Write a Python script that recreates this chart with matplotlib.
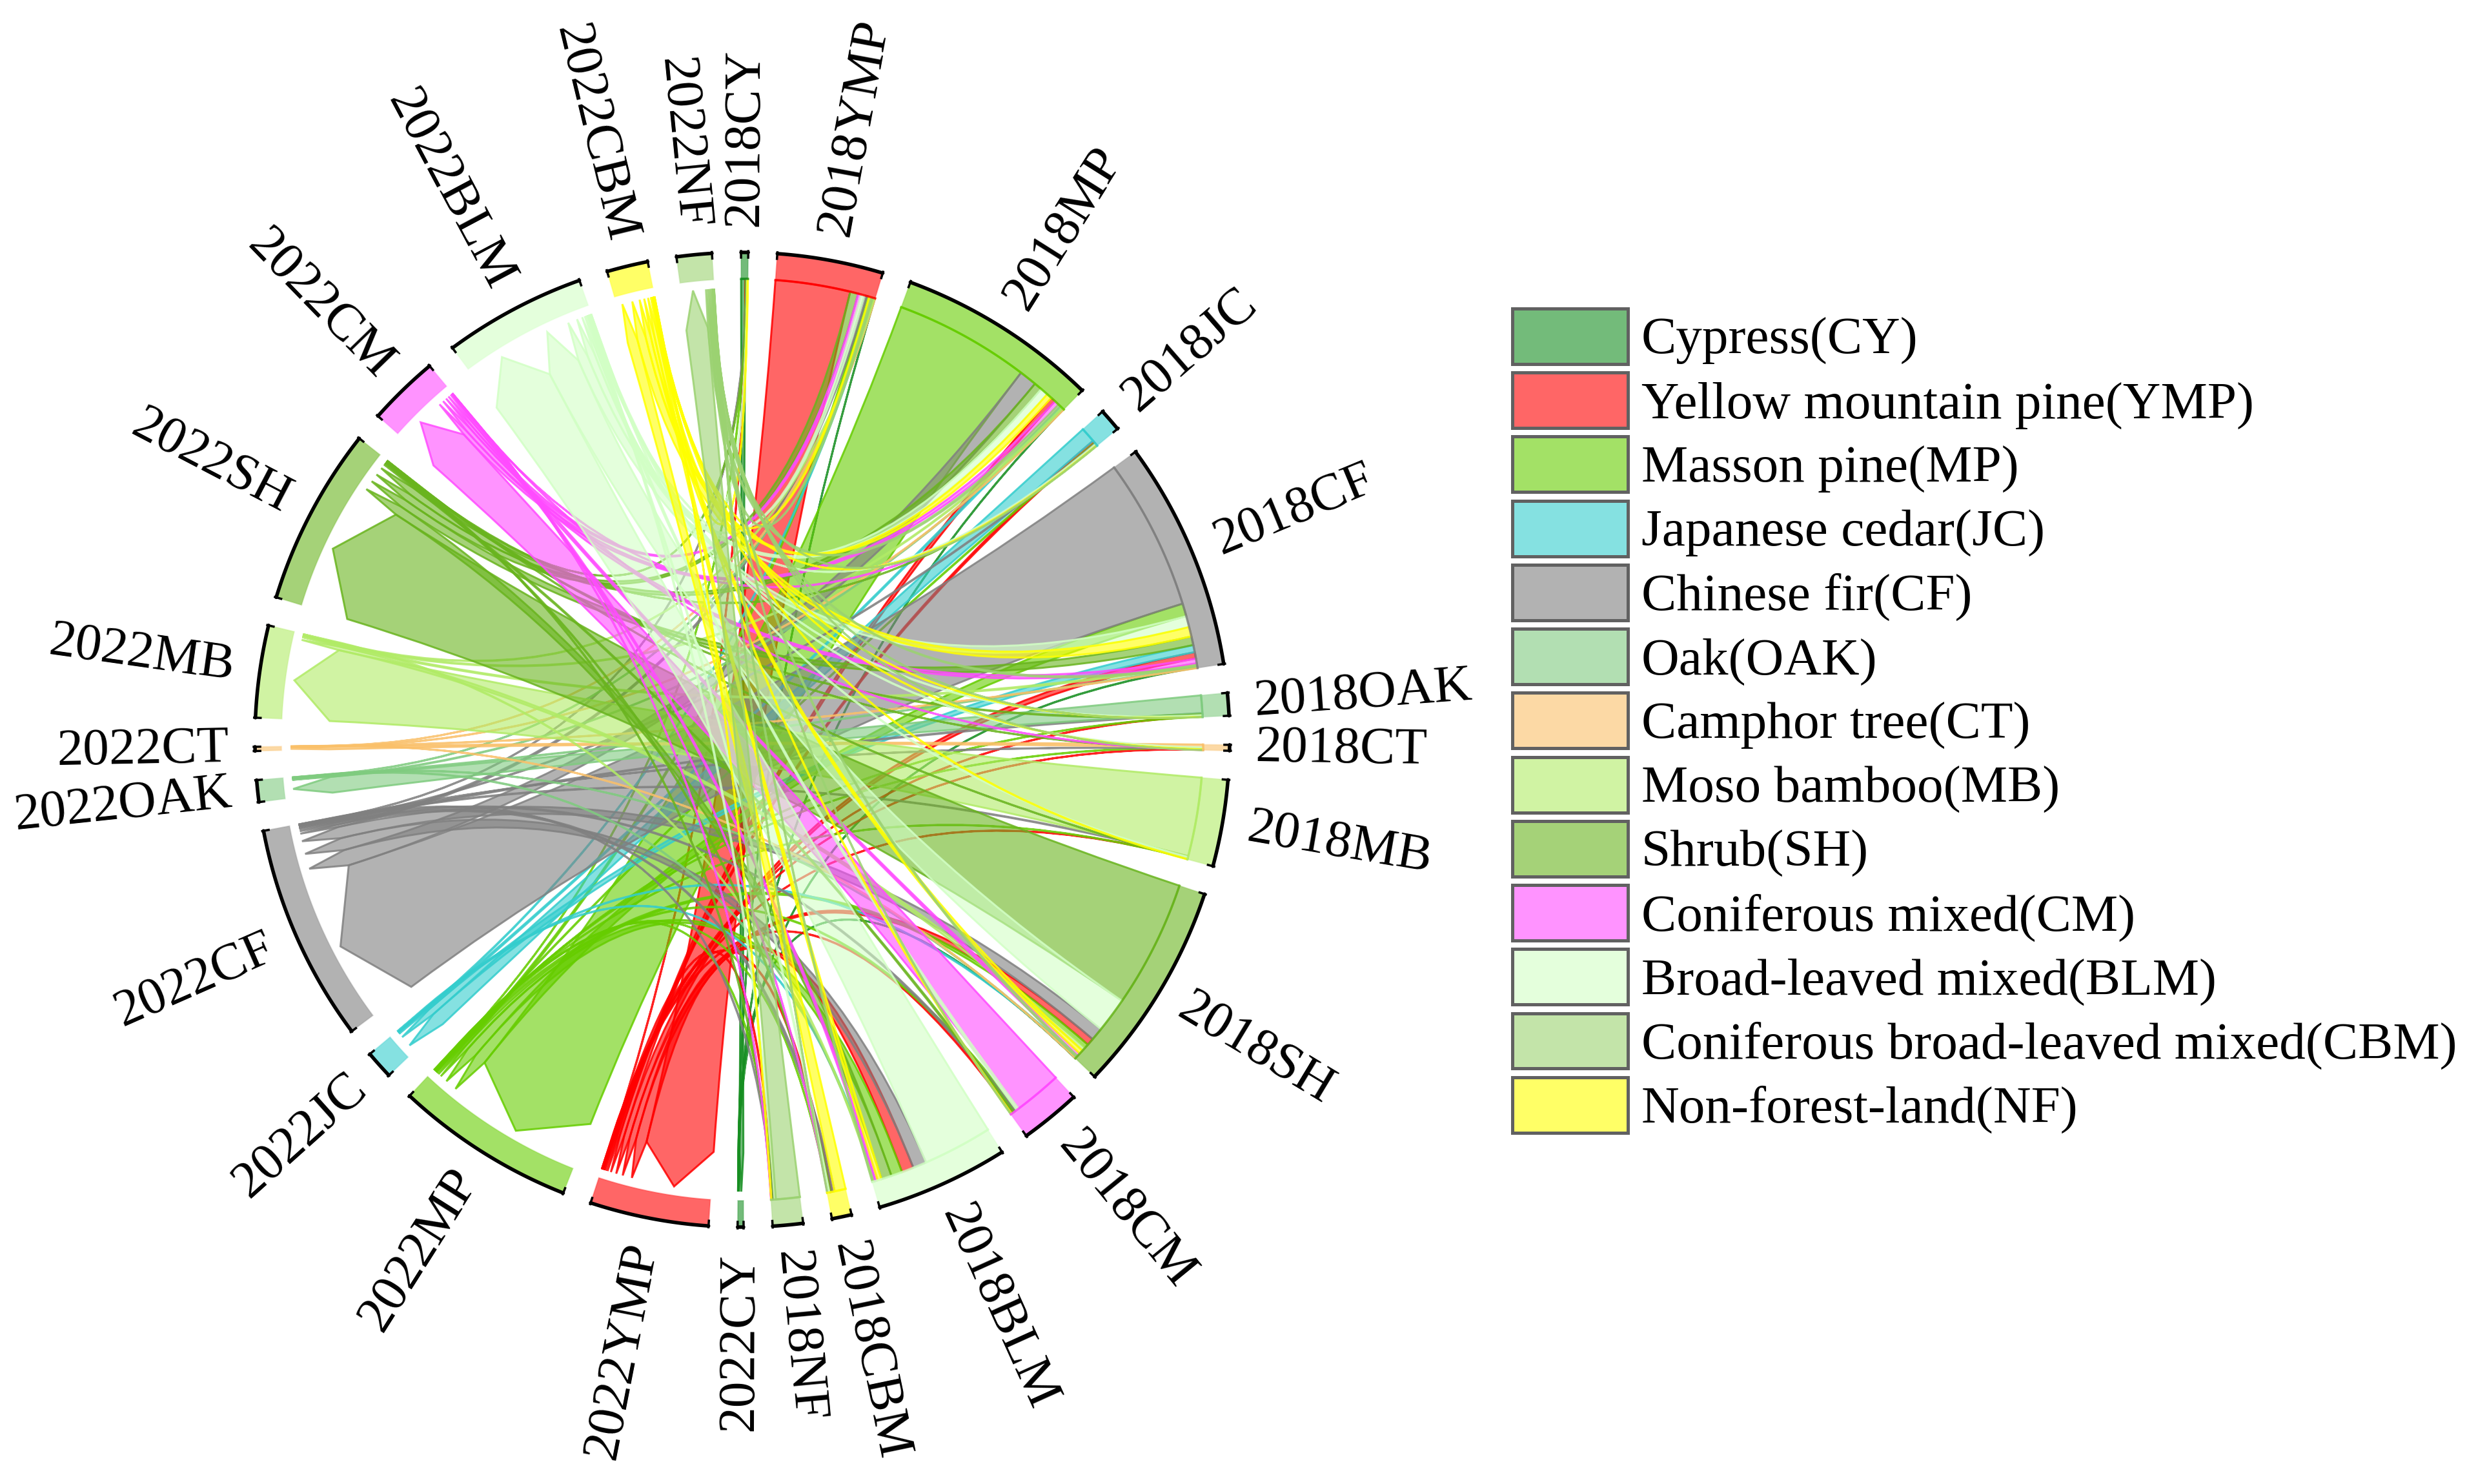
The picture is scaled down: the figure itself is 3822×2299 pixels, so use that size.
# -*- coding: utf-8 -*-
import numpy as np
import matplotlib
matplotlib.use("Agg")
import matplotlib.pyplot as plt
from matplotlib.patches import PathPatch, Patch
from matplotlib.path import Path

plt.rcParams['font.family'] = ['Liberation Serif', 'DejaVu Serif']

# classes in clockwise order round each half of the ring
classes = ["CY", "YMP", "MP", "JC", "CF", "OAK", "CT", "MB", "SH", "CM", "BLM", "NF", "CBM"]
labels_2018 = ["2018CY", "2018YMP", "2018MP", "2018JC", "2018CF", "2018OAK", "2018CT",
               "2018MB", "2018SH", "2018CM", "2018BLM", "2018CBM", "2018NF"]
labels_2022 = ["2022CY", "2022YMP", "2022MP", "2022JC", "2022CF", "2022OAK", "2022CT",
               "2022MB", "2022SH", "2022CM", "2022BLM", "2022CBM", "2022NF"]
legend_names = ["Cypress(CY)", "Yellow mountain pine(YMP)", "Masson pine(MP)", "Japanese cedar(JC)",
                "Chinese fir(CF)", "Oak(OAK)", "Camphor tree(CT)", "Moso bamboo(MB)", "Shrub(SH)",
                "Coniferous mixed(CM)", "Broad-leaved mixed(BLM)",
                "Non-forest-land(NF)", "Coniferous broad-leaved mixed(CBM)"]
legend_order = [0, 1, 2, 3, 4, 5, 6, 7, 8, 9, 10, 12, 11]
colors = ["#168e21", "#ff0000", "#66cd00", "#34cdcd", "#808080", "#7fcb7f", "#fac069",
          "#b1eb66", "#69b41e", "#ff4bff", "#d2ffc5", "#ffff00", "#9bd271"]

# flows 2018 -> 2022, read off the ribbon widths. columns follow "classes"
#           CY    YMP   MP    JC    CF    OAK   CT    MB    SH    CM    BLM   NF    CBM
from_cy  = [0.55, 0.05, 0.05, 0.00, 0.05, 0.00, 0.00, 0.00, 0.05, 0.00, 0.05, 0.05, 0.00]
from_ymp = [0.03, 9.40, 0.30, 0.10, 0.35, 0.05, 0.02, 0.10, 1.00, 0.40, 0.40, 0.25, 0.20]
from_mp  = [0.05, 0.60, 17.0, 0.25, 2.20, 0.10, 0.05, 0.15, 1.00, 0.60, 1.00, 0.70, 0.30]
from_jc  = [0.00, 0.30, 0.10, 1.90, 0.10, 0.00, 0.00, 0.00, 0.05, 0.05, 0.10, 0.05, 0.05]
from_cf  = [0.05, 0.80, 1.60, 0.90, 19.0, 0.10, 0.05, 0.20, 1.10, 0.60, 1.40, 1.20, 0.20]
from_oak = [0.00, 0.05, 0.05, 0.00, 0.15, 2.20, 0.00, 0.00, 0.10, 0.00, 0.10, 0.03, 0.02]
from_ct  = [0.00, 0.03, 0.05, 0.00, 0.05, 0.00, 0.35, 0.00, 0.05, 0.03, 0.08, 0.04, 0.02]
from_mb  = [0.00, 0.05, 0.05, 0.00, 0.10, 0.00, 0.00, 9.90, 0.05, 0.00, 0.10, 0.05, 0.00]
from_sh  = [0.02, 0.90, 0.50, 0.10, 1.60, 0.05, 0.03, 0.50, 16.0, 0.40, 4.40, 0.50, 0.20]
from_cm  = [0.00, 0.15, 0.20, 0.00, 0.20, 0.00, 0.00, 0.00, 0.20, 6.00, 0.30, 0.10, 0.05]
from_blm = [0.00, 1.50, 1.40, 0.10, 1.70, 0.10, 0.00, 0.10, 1.30, 0.30, 8.70, 0.50, 0.10]
from_nf  = [0.00, 0.20, 0.05, 0.00, 0.30, 0.00, 0.00, 0.00, 0.15, 0.05, 0.15, 1.40, 0.05]
from_cbm = [0.00, 0.10, 0.10, 0.00, 0.10, 0.00, 0.00, 0.00, 0.10, 0.02, 0.15, 0.03, 3.00]
flows = np.array([from_cy, from_ymp, from_mp, from_jc, from_cf, from_oak, from_ct,
                  from_mb, from_sh, from_cm, from_blm, from_nf, from_cbm])

# layout in pixels of the output
W, H = 3823, 2299
CX, CY0, R = 1150, 1146, 755
BAND = 41
R_LINK, R_SHOULDER, R_TIP = R - BAND, 640, 700
GAP = 3.42
START = -0.15
FONT = 58.5
px = 72.0 / 100.0

fig = plt.figure(figsize=(W / 100, H / 100), dpi=100, facecolor='w')
ax = fig.add_axes([0, 0, 1, 1])
ax.set_xlim(0, W)
ax.set_ylim(H, 0)
ax.axis('off')


def xy(theta, r):
    # theta clockwise from north, in degrees
    t = np.radians(theta)
    return np.column_stack([CX + r * np.sin(t), CY0 - r * np.cos(t)])


n = len(classes)
row_tot, col_tot = flows.sum(axis=1), flows.sum(axis=0)
unit = (360 - 2 * n * GAP) / (row_tot.sum() + col_tot.sum())

sectors = []
a = START
for tot in list(row_tot) + list(col_tot):
    sectors.append((a, a + tot * unit))
    a += tot * unit + GAP

# ring bands, outer arc, labels
for k, (a0, a1) in enumerate(sectors):
    c = k % n
    th = np.linspace(a0, a1, 80)
    outer, inner = xy(th, R), xy(th[::-1], R - BAND)
    rgb = matplotlib.colors.to_rgb(colors[c])
    ax.fill(*np.vstack([outer, inner]).T, fc=rgb + (0.6,), ec=rgb + (0.25,), lw=2 * px, zorder=3)
    if k < n:
        ax.plot(*xy(th, R - BAND).T, color=rgb + (0.8,), lw=3.5 * px, zorder=4)
    ax.plot(*outer.T, color='k', lw=5.5 * px, zorder=5, solid_capstyle='round')
    for end in (a0, a1):
        ax.plot(*xy(np.array([end, end]), np.array([R - 8, R + 2])).T, color='k', lw=3.5 * px, zorder=5)

    mid = (a0 + a1) / 2
    name = (labels_2018 + labels_2022)[k]
    x, y = xy(np.array([mid]), np.array([R + 40]))[0]
    if mid < 180:
        ax.text(x, y, name, rotation=90 - mid, rotation_mode='anchor', ha='left', va='center', fontsize=FONT)
    else:
        ax.text(x, y, name, rotation=270 - mid, rotation_mode='anchor', ha='right', va='center', fontsize=FONT)

# slice each sector by descending flow, self flow comes first
src_span, dst_span = {}, {}
for i in range(n):
    pos = sectors[i][0]
    for j in np.argsort(-flows[i], kind='stable'):
        src_span[i, j] = (pos, pos + flows[i, j] * unit)
        pos += flows[i, j] * unit
for j in range(n):
    pos = sectors[n + j][0]
    for i in np.argsort(-flows[:, j], kind='stable'):
        dst_span[i, j] = (pos, pos + flows[i, j] * unit)
        pos += flows[i, j] * unit


def ribbon(s0, s1, d0, d1):
    arc = xy(np.linspace(s0, s1, 24), np.full(24, R_LINK))
    verts = [arc[0]]
    codes = [Path.MOVETO]
    for p in arc[1:]:
        verts.append(p)
        codes.append(Path.LINETO)
    centre = np.array([CX, CY0])
    # edge out to the near shoulder of the arrow
    verts += [centre, xy(np.array([d0]), np.array([R_SHOULDER]))[0]]
    codes += [Path.CURVE3, Path.CURVE3]
    verts += [xy(np.array([(d0 + d1) / 2]), np.array([R_TIP]))[0], xy(np.array([d1]), np.array([R_SHOULDER]))[0]]
    codes += [Path.LINETO, Path.LINETO]
    verts += [centre, arc[0]]
    codes += [Path.CURVE3, Path.CURVE3]
    return Path(verts, codes)


for j in range(n):
    rgb = matplotlib.colors.to_rgb(colors[j])
    for i in range(n):
        if flows[i, j] <= 0:
            continue
        s0, s1 = src_span[i, j]
        d0, d1 = dst_span[i, j]
        ax.add_patch(PathPatch(ribbon(s0, s1, d0, d1), fc=rgb + (0.6,), ec=rgb + (0.85,),
                               lw=3 * px, zorder=2, joinstyle='miter'))

handles = []
for idx in legend_order:
    rgb = matplotlib.colors.to_rgb(colors[idx])
    handles.append(Patch(fc=rgb + (0.6,), ec=(0.38, 0.38, 0.38), lw=5 * px, label=legend_names[idx]))
ax.legend(handles=handles, loc='upper left', bbox_to_anchor=(2343, 478), bbox_transform=ax.transData,
          frameon=False, fontsize=FONT, borderpad=0, borderaxespad=0, handlelength=2.2,
          handleheight=1.25, handletextpad=0.26, labelspacing=0.145)

fig.savefig("out.png", dpi=100)
